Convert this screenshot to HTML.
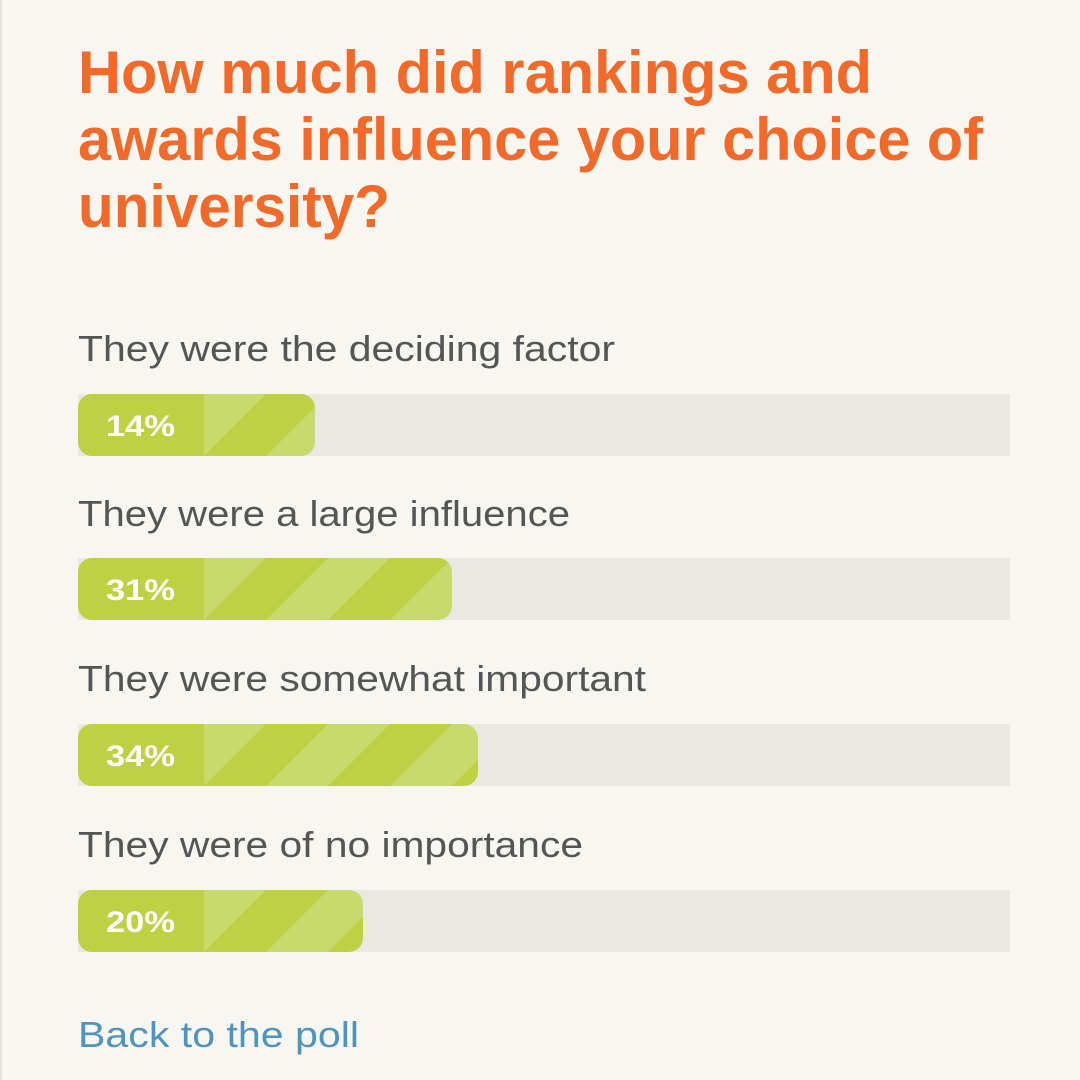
<!DOCTYPE html>
<html><head><meta charset="utf-8"><style>
html,body{margin:0;padding:0;background:#f7f6f1;}
svg{display:block}
</style></head><body>
<svg width="1080" height="1080" viewBox="0 0 1080 1080" xmlns="http://www.w3.org/2000/svg">
<rect width="1080" height="1080" fill="#f7f6f1"/>
<rect x="0" y="0" width="2" height="1080" fill="#e4e2dc"/>
<g font-family="Liberation Sans, sans-serif" font-weight="bold" fill="#f26a2a" font-size="60">
<text x="78" y="93" textLength="794" lengthAdjust="spacingAndGlyphs">How much did rankings and</text>
<text x="78" y="160" textLength="905" lengthAdjust="spacingAndGlyphs">awards influence your choice of</text>
<text x="78" y="227" textLength="312" lengthAdjust="spacingAndGlyphs">university?</text>
</g>
<defs>
<pattern id="p1" patternUnits="userSpaceOnUse" x="204" y="394" width="124" height="62"><rect width="124" height="62" fill="#bed143"/><polygon points="0,0 62,0 0,62" fill="#c9da6c"/><polygon points="124,0 124,62 62,62" fill="#c9da6c"/></pattern>
<pattern id="p2" patternUnits="userSpaceOnUse" x="204" y="558" width="124" height="62"><rect width="124" height="62" fill="#bed143"/><polygon points="0,0 62,0 0,62" fill="#c9da6c"/><polygon points="124,0 124,62 62,62" fill="#c9da6c"/></pattern>
<pattern id="p3" patternUnits="userSpaceOnUse" x="204" y="724" width="124" height="62"><rect width="124" height="62" fill="#bed143"/><polygon points="0,0 62,0 0,62" fill="#c9da6c"/><polygon points="124,0 124,62 62,62" fill="#c9da6c"/></pattern>
<pattern id="p4" patternUnits="userSpaceOnUse" x="204" y="890" width="124" height="62"><rect width="124" height="62" fill="#bed143"/><polygon points="0,0 62,0 0,62" fill="#c9da6c"/><polygon points="124,0 124,62 62,62" fill="#c9da6c"/></pattern>
</defs>
<g font-family="Liberation Sans, sans-serif" fill="#555" font-size="36">
<text x="78" y="361" textLength="537" lengthAdjust="spacingAndGlyphs">They were the deciding factor</text>
<text x="78" y="526" textLength="492" lengthAdjust="spacingAndGlyphs">They were a large influence</text>
<text x="78" y="691" textLength="568" lengthAdjust="spacingAndGlyphs">They were somewhat important</text>
<text x="78" y="857" textLength="505" lengthAdjust="spacingAndGlyphs">They were of no importance</text>
</g>
<g>
<rect x="78" y="394" width="932" height="62" fill="#eae8e3"/>
<rect x="78" y="394" width="237" height="62" rx="14" fill="url(#p1)"/>
<path d="M92,394 H204 V456 H92 A14,14 0 0 1 78,442 V408 A14,14 0 0 1 92,394 Z" fill="#bed143"/>
<rect x="78" y="558" width="932" height="62" fill="#eae8e3"/>
<rect x="78" y="558" width="374" height="62" rx="14" fill="url(#p2)"/>
<path d="M92,558 H204 V620 H92 A14,14 0 0 1 78,606 V572 A14,14 0 0 1 92,558 Z" fill="#bed143"/>
<rect x="78" y="724" width="932" height="62" fill="#eae8e3"/>
<rect x="78" y="724" width="400" height="62" rx="14" fill="url(#p3)"/>
<path d="M92,724 H204 V786 H92 A14,14 0 0 1 78,772 V738 A14,14 0 0 1 92,724 Z" fill="#bed143"/>
<rect x="78" y="890" width="932" height="62" fill="#eae8e3"/>
<rect x="78" y="890" width="285" height="62" rx="14" fill="url(#p4)"/>
<path d="M92,890 H204 V952 H92 A14,14 0 0 1 78,938 V904 A14,14 0 0 1 92,890 Z" fill="#bed143"/>
</g>
<g font-family="Liberation Sans, sans-serif" font-weight="bold" fill="#fff" font-size="30">
<text x="106" y="436" textLength="69" lengthAdjust="spacingAndGlyphs">14%</text>
<text x="106" y="600" textLength="69" lengthAdjust="spacingAndGlyphs">31%</text>
<text x="106" y="766" textLength="69" lengthAdjust="spacingAndGlyphs">34%</text>
<text x="106" y="932" textLength="69" lengthAdjust="spacingAndGlyphs">20%</text>
</g>
<text x="78" y="1047" font-family="Liberation Sans, sans-serif" font-size="36" fill="#4f94bd" textLength="281" lengthAdjust="spacingAndGlyphs">Back to the poll</text>
</svg>
</body></html>
